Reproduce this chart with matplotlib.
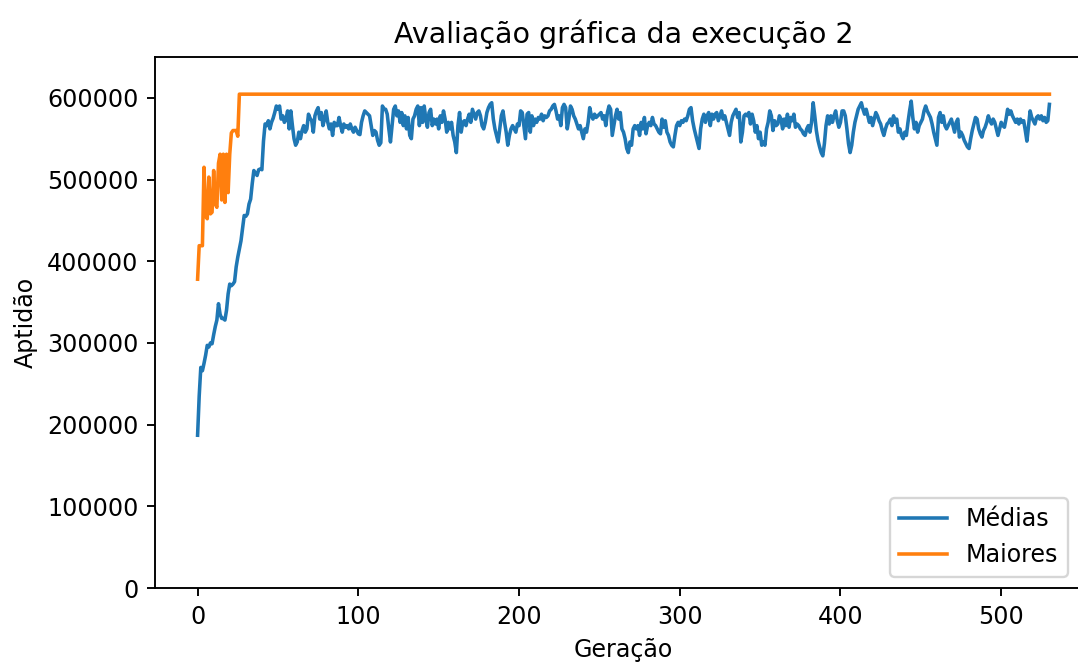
import numpy as np
import matplotlib
matplotlib.use("Agg")
import matplotlib.pyplot as plt

# mean fitness per generation (in thousands)
medias_k = [
    187, 235, 270, 266, 275, 285, 297, 295, 300, 299,
    310, 320, 328, 348, 335, 330, 330, 328, 340, 360,
    372, 370, 372, 375, 393, 405, 415, 425, 440, 456,
    455, 458, 470, 476, 495, 511, 508, 505, 512, 513,
    512, 547, 568, 566, 572, 562, 570, 575, 582, 590,
    586, 590, 574, 578, 570, 574, 584, 562, 584, 566,
    550, 542, 546, 558, 550, 560, 566, 558, 562, 580,
    575, 572, 558, 578, 584, 588, 574, 582, 566, 574,
    584, 570, 562, 568, 554, 570, 566, 566, 576, 566,
    558, 568, 564, 566, 562, 568, 562, 558, 564, 560,
    556, 555, 570, 578, 584, 582, 580, 578, 566, 554,
    560, 558, 548, 542, 545, 590, 586, 586, 580,
    562, 546, 566, 586, 590, 578, 584, 570, 582, 566,
    578, 562, 576, 554, 550, 574, 578, 586, 590, 566,
    588, 570, 590, 574, 564, 582, 586, 566, 574, 568,
    574, 562, 578, 570, 584, 574, 558, 570, 562, 570,
    554, 546, 533, 566, 582, 558, 570, 572, 566, 574,
    580, 570, 586, 580, 574, 582, 584, 578, 566, 562,
    570, 582, 588, 592, 594, 574, 562, 554, 546, 562,
    578, 584, 570, 558, 542, 554, 562, 566,
    562, 558, 568, 566, 584, 582, 566, 550, 580, 582,
    558, 578, 566, 574, 570, 576, 574, 580, 572, 578,
    576, 578, 584, 586, 590, 592, 584, 574, 578, 566,
    588, 592, 588, 562, 574, 590, 586, 578, 574, 568,
    562, 566, 558, 550, 562, 558, 570, 588, 578, 574,
    580, 576, 578, 580, 582, 574, 578, 566, 582, 590,
    586, 554, 566, 578, 586, 574, 582, 562, 558, 550,
    538, 533, 546, 542, 562, 566, 562,
    566, 554, 570, 562, 576, 556, 566, 570, 566, 576,
    568, 566, 562, 558, 556, 574, 564, 572, 558, 554,
    546, 542, 540, 554, 566, 570, 566, 572, 570, 574,
    572, 578, 586, 588, 572, 562, 554, 546, 538, 562,
    574, 580, 570, 578, 582, 566, 580, 574, 580, 582,
    572, 578, 584, 574, 578, 570, 562, 554, 570, 578,
    582, 586, 576, 582, 546, 558, 578, 580, 578, 582,
    568, 580, 572, 558, 566, 550, 558, 542,
    546, 542, 562, 570, 584, 578, 560, 572, 566, 568,
    578, 574, 562, 574, 566, 580, 564, 576, 572, 580,
    564, 568, 566, 562, 560, 556, 554, 562, 566, 558,
    570, 594, 578, 560, 548, 540, 533, 529, 544, 566,
    578, 568, 578, 570, 578, 584, 572, 564, 570, 584,
    584, 578, 562, 544, 533, 542, 558, 570, 578, 586,
    590, 594, 586, 580, 586, 578, 570, 576, 566, 574,
    582, 578, 572, 568, 560, 554, 562, 568,
    570, 574, 566, 578, 570, 574, 558, 562, 554, 550,
    558, 554, 570, 584, 596, 576, 562, 570, 558, 566,
    570, 574, 584, 590, 584, 580, 576, 568, 558, 550,
    542, 576, 582, 570, 578, 566, 562, 566, 570, 574,
    566, 558, 570, 574, 552, 558, 554, 548, 544, 540,
    538, 550, 560, 568, 576, 574, 562, 556, 552, 560,
    564, 570, 578, 572, 568, 574, 570, 562, 554, 562,
    570, 566, 564,
    574, 586, 580, 584, 578, 574, 570, 574, 568, 574,
    570, 572, 560, 547, 566, 584, 576, 572, 568, 576,
    578, 574, 578, 572, 576, 570, 572, 592,
]

# best fitness: noisy start, then it stays at the top value
maiores_inicio_k = [378, 419, 419, 419, 515, 455, 452, 503, 458, 460,
                    511, 470, 466, 520, 531, 475, 531, 472, 531, 484,
                    531, 557, 560, 560, 560, 553]
maior_final_k = 604.5

medias = np.array(medias_k) * 1000
maiores = np.array(maiores_inicio_k + [maior_final_k] * (len(medias_k) - len(maiores_inicio_k))) * 1000
geracoes = np.arange(len(medias))

fig = plt.figure(figsize=(1078 / 171, 662 / 171), dpi=171)
ax = fig.add_axes([155 / 1078, 1 - 588 / 662, 937 / 1078, 531 / 662])

ax.plot(geracoes, medias, label="Médias")
ax.plot(geracoes, maiores, label="Maiores")
ax.set_ylim(0, 650000)
ax.set_title("Avaliação gráfica da execução 2")
ax.set_xlabel("Geração")
ax.set_ylabel("Aptidão")
ax.legend(loc="lower right", bbox_to_anchor=(0.974, 0.021), borderaxespad=0)

fig.savefig("out.png", dpi=171)
